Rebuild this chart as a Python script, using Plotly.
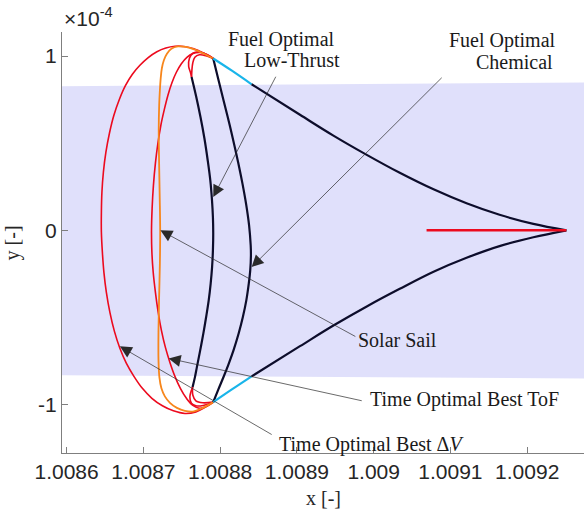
import plotly.graph_objects as go

# ---------------- data (x in CR3BP units, y in units of 1e-4) ----------------
band_x = [1.008594, 1.009274, 1.009274, 1.008594]
band_y = [0.827, 0.848, -0.850, -0.832]

best_dv_x = [1.0087910, 1.0087788, 1.0087658, 1.0087528, 1.0087411, 1.0087293, 1.0087176, 1.0087059,
             1.0086955, 1.0086857, 1.0086766, 1.0086688, 1.0086616, 1.0086558, 1.0086512, 1.0086479,
             1.0086460, 1.0086453, 1.0086453, 1.0086466, 1.0086486, 1.0086518, 1.0086564, 1.0086623,
             1.0086694, 1.0086779, 1.0086877, 1.0086987, 1.0087111, 1.0087248, 1.0087391, 1.0087541,
             1.0087684, 1.0087802, 1.0087910]
best_dv_y = [0.986, 1.016, 1.042, 1.055, 1.056, 1.046, 1.025, 0.990,
             0.947, 0.896, 0.830, 0.752, 0.660, 0.557, 0.448, 0.333,
             0.218, 0.103, -0.011, -0.126, -0.241, -0.356, -0.471, -0.580,
             -0.677, -0.764, -0.838, -0.907, -0.964, -1.007, -1.036, -1.051,
             -1.042, -1.016, -0.986]

best_tof_x = [1.0087910, 1.0087828, 1.0087736, 1.0087645, 1.0087567, 1.0087495, 1.0087430, 1.0087372,
              1.0087320, 1.0087274, 1.0087228, 1.0087189, 1.0087157, 1.0087131, 1.0087114, 1.0087106,
              1.0087111, 1.0087128, 1.0087157, 1.0087193, 1.0087235, 1.0087287, 1.0087346, 1.0087411,
              1.0087482, 1.0087561, 1.0087645, 1.0087736, 1.0087828, 1.0087910]
best_tof_y = [0.986, 1.009, 1.020, 1.014, 0.993, 0.956, 0.907, 0.847,
              0.775, 0.695, 0.603, 0.499, 0.385, 0.258, 0.126, 0.0,
              -0.126, -0.241, -0.356, -0.471, -0.574, -0.672, -0.758, -0.838,
              -0.907, -0.964, -1.005, -1.022, -1.010, -0.986]

sail_x = [1.0087910, 1.0087788, 1.0087671, 1.0087554, 1.0087450, 1.0087365, 1.0087307, 1.0087267,
          1.0087241, 1.0087226, 1.0087215, 1.0087206, 1.0087200, 1.0087205, 1.0087213, 1.0087219,
          1.0087215, 1.0087205, 1.0087197, 1.0087197, 1.0087209, 1.0087235, 1.0087280, 1.0087346,
          1.0087437, 1.0087541, 1.0087658, 1.0087775, 1.0087910]
sail_y = [0.986, 1.013, 1.037, 1.053, 1.055, 1.042, 1.013, 0.976,
          0.930, 0.873, 0.804, 0.718, 0.574, 0.385, 0.189, 0.0,
          -0.189, -0.385, -0.574, -0.746, -0.844, -0.907, -0.953, -0.990,
          -1.019, -1.036, -1.039, -1.019, -0.986]

loop_top_a_x = [1.008791, 1.0087828, 1.0087736, 1.0087645, 1.00876, 1.008759, 1.0087613, 1.0087628]
loop_top_a_y = [0.986, 1.007, 1.024, 1.016, 0.987, 0.941, 0.907, 0.880]
loop_top_b_x = [1.008791, 1.0087815, 1.008773, 1.0087671, 1.0087643, 1.0087632, 1.0087628]
loop_top_b_y = [0.986, 1.002, 1.007, 0.993, 0.959, 0.918, 0.880]
loop_bot_a_x = [1.0087641, 1.0087606, 1.0087626, 1.0087684, 1.0087779, 1.008791]
loop_bot_a_y = [-0.900, -0.957, -0.993, -1.007, -1.005, -0.986]
loop_bot_b_x = [1.0087641, 1.0087645, 1.0087684, 1.0087775, 1.008791]
loop_bot_b_y = [-0.900, -0.947, -0.979, -0.990, -0.986]

lt_arc_x = [1.0087628, 1.0087687, 1.0087744, 1.0087795, 1.0087838, 1.0087872, 1.0087894, 1.0087906,
            1.0087910, 1.0087906, 1.0087895, 1.0087877, 1.0087851, 1.0087817, 1.0087781, 1.0087740,
            1.0087697, 1.0087671, 1.0087641]
lt_arc_y = [0.880, 0.769, 0.650, 0.528, 0.402, 0.287, 0.172, 0.075,
            -0.017, -0.115, -0.211, -0.304, -0.402, -0.499, -0.593, -0.689,
            -0.785, -0.844, -0.900]

chem_arc_x = [1.0087910, 1.0087973, 1.0088044, 1.0088125, 1.0088200, 1.0088248, 1.0088291, 1.0088339,
              1.0088377, 1.0088398, 1.0088401, 1.0088392, 1.0088373, 1.0088341, 1.0088296, 1.0088242,
              1.0088174, 1.0088109, 1.0088044, 1.0087977, 1.0087910]
chem_arc_y = [0.986, 0.873, 0.746, 0.603, 0.459, 0.362, 0.268, 0.149,
              0.029, -0.086, -0.144, -0.230, -0.306, -0.402, -0.498, -0.591,
              -0.689, -0.769, -0.842, -0.913, -0.986]

cyan_up_x = [1.008791, 1.0088153, 1.008841]
cyan_up_y = [0.986, 0.916, 0.838]
cyan_lo_x = [1.008791, 1.0088153, 1.008841]
cyan_lo_y = [-0.986, -0.913, -0.838]

out_up_x = [1.008841, 1.008904, 1.008947, 1.008991, 1.009034, 1.009078, 1.009121, 1.009164, 1.009208, 1.009251]
out_up_y = [0.838, 0.663, 0.545, 0.433, 0.330, 0.235, 0.155, 0.089, 0.037, 0.0]
out_lo_x = [1.008841, 1.008904, 1.008947, 1.008991, 1.009034, 1.009078, 1.009121, 1.009164, 1.009208, 1.009251]
out_lo_y = [-0.838, -0.665, -0.548, -0.437, -0.336, -0.238, -0.158, -0.091, -0.040, 0.0]

orbit_x = [1.0090689, 1.009251]
orbit_y = [0.0, 0.0]

x_ticks = [1.0086, 1.0087, 1.0088, 1.0089, 1.009, 1.0091, 1.0092]
x_ticklabels = ["1.0086", "1.0087", "1.0088", "1.0089", "1.009", "1.0091", "1.0092"]
y_ticks = [-1, 0, 1]
y_ticklabels = ["-1", "0", "1"]

# annotations: (text, x_left, y_center)
labels = [
    ("Fuel Optimal", 1.0088084, 1.096),
    ("Low-Thrust", 1.00883, 0.976),
    ("Fuel Optimal", 1.0090971, 1.088),
    ("Chemical", 1.0091319, 0.964),
    ("Solar Sail", 1.0089785, -0.631),
    ("Time Optimal Best ToF", 1.0089942, -0.970),
    ("Time Optimal Best Δ<i>V</i>", 1.0088756, -1.228),
]
# arrows: (head_x, head_y, tail_x, tail_y)
arrows = [
    (1.008791, 0.191, 1.0088735, 0.890),
    (1.008841, -0.211, 1.0090906, 0.884),
    (1.0087222, 0.0, 1.0089781, -0.614),
    (1.008733, -0.735, 1.0089864, -0.980),
    (1.0086694, -0.666, 1.0088691, -1.177),
]

# ---------------- styling ----------------
BLACK = "#0d0d2b"
CYAN = "#19b5ea"
ORANGE = "#f7861c"
RED = "#ec0a1e"
BAND = "#e0e0fb"
AXC = "#7f7f7f"
TXT = "#262626"

fig = go.Figure()

def line(x, y, color, width, shape="spline"):
    fig.add_trace(go.Scatter(x=x, y=y, mode="lines",
                             line=dict(color=color, width=width, shape=shape, smoothing=1.0),
                             hoverinfo="skip", showlegend=False))

fig.add_trace(go.Scatter(x=band_x, y=band_y, fill="toself", fillcolor=BAND, mode="lines",
                         line=dict(width=0), hoverinfo="skip", showlegend=False))

line(best_dv_x, best_dv_y, RED, 1.6)
line(best_tof_x, best_tof_y, RED, 1.6)
line(loop_top_a_x, loop_top_a_y, RED, 1.6)
line(loop_top_b_x, loop_top_b_y, RED, 1.6)
line(loop_bot_a_x, loop_bot_a_y, RED, 1.6)
line(loop_bot_b_x, loop_bot_b_y, RED, 1.6)
line(sail_x, sail_y, ORANGE, 1.8)
line(lt_arc_x, lt_arc_y, BLACK, 2.2)
line(chem_arc_x, chem_arc_y, BLACK, 2.2)
line(cyan_up_x, cyan_up_y, CYAN, 2.2)
line(cyan_lo_x, cyan_lo_y, CYAN, 2.2)
line(out_up_x, out_up_y, BLACK, 2.2)
line(out_lo_x, out_lo_y, BLACK, 2.2)
line(orbit_x, orbit_y, RED, 2.6, shape="linear")

for (t, xl, yc) in labels:
    fig.add_annotation(x=xl, y=yc, xref="x", yref="y", text=t, showarrow=False,
                       xanchor="left", yanchor="middle", borderpad=0,
                       font=dict(family="Liberation Serif", size=20, color="#1a1a1a"))

for (hx, hy, tx, ty) in arrows:
    fig.add_annotation(x=hx, y=hy, ax=tx, ay=ty, xref="x", yref="y", axref="x", ayref="y",
                       text="", showarrow=True, arrowhead=2, arrowsize=3.4, arrowwidth=0.7,
                       arrowcolor="#2a2a2a")

# exponent label and axis titles
fig.add_annotation(x=0, y=1, xref="paper", yref="paper", xanchor="left", yanchor="bottom", yshift=0,
                   text="×10<sup>-4</sup>", showarrow=False,
                   font=dict(family="Liberation Sans", size=21, color=TXT))
fig.add_annotation(x=0.5, y=-0.107, xref="paper", yref="paper", xanchor="center", yanchor="middle",
                   text="x [-]", showarrow=False,
                   font=dict(family="Liberation Serif", size=20, color=TXT))
fig.add_annotation(x=-0.094, y=0.5, xref="paper", yref="paper", xanchor="center", yanchor="middle",
                   text="y [-]", textangle=-90, showarrow=False,
                   font=dict(family="Liberation Serif", size=20, color=TXT))

fig.update_layout(
    width=584, height=513,
    margin=dict(l=62, r=0, t=32, b=60),
    paper_bgcolor="white", plot_bgcolor="white",
    showlegend=False,
    xaxis=dict(range=[1.008594, 1.009274], tickmode="array", tickvals=x_ticks, ticktext=x_ticklabels,
               ticks="inside", ticklen=6, tickcolor=AXC, showline=True, linecolor=AXC, linewidth=1,
               showgrid=False, zeroline=False, mirror=False,
               tickfont=dict(family="Liberation Sans", size=21, color=TXT)),
    yaxis=dict(range=[-1.278, 1.138], tickmode="array", tickvals=y_ticks, ticktext=y_ticklabels,
               ticks="inside", ticklen=6, tickcolor=AXC, showline=True, linecolor=AXC, linewidth=1,
               showgrid=False, zeroline=False, mirror=False,
               tickfont=dict(family="Liberation Sans", size=21, color=TXT)),
)

fig.write_html("out.html", config={"displayModeBar": False},
               post_script="document.body.style.margin='0px';")
